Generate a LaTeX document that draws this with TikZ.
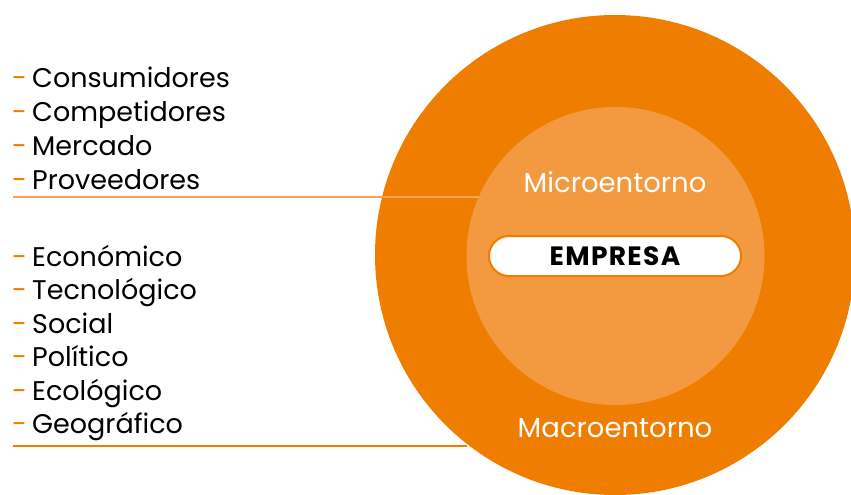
\documentclass[tikz,border=0pt]{standalone}
\usepackage{fontspec}
\setmainfont{Poppins}
\definecolor{outerOr}{RGB}{239,125,0}
\definecolor{innerOr}{RGB}{243,154,64}
\definecolor{lineLight}{RGB}{245,165,85}
\begin{document}
\begin{tikzpicture}[x=1pt,y=-1pt,
  item/.style={anchor=base west,inner sep=0pt,font=\fontsize{27}{30}\selectfont,text=black},
  ring/.style={circle,inner sep=0pt,draw=none},
  lbl/.style={text=white,font=\fontsize{27.5}{30}\selectfont,inner sep=0pt,anchor=base},
  pill/.style={draw=outerOr,line width=2pt,fill=white,rounded corners=20pt,minimum width=252pt,minimum height=40pt,inner sep=0pt,font=\bfseries\fontsize{26.5}{30}\selectfont\addfontfeature{LetterSpace=5}},
]
\useasboundingbox (0,0) rectangle (851,495);
\clip (0,0) rectangle (851,495);
\newcommand{\dsh}{\makebox[20pt][l]{\textcolor{outerOr}{-}}}
\node[ring,fill=outerOr,minimum size=480pt] (outer) at (615,255) {};
\node[ring,fill=innerOr,minimum size=298pt] (inner) at (615.5,256) {};
\node[pill] (emp) at (615,256) {EMPRESA};
\node[lbl] (micro) at (615,192) {Microentorno};
\node[lbl] (macro) at (615,437) {Macroentorno};
\coordinate (l1) at (13,197);
\coordinate (l2) at (13,446);
\draw[lineLight,line width=1.6pt] (l1) -- (l1 -| inner.156.7);
\draw[outerOr,line width=2pt] (l2) -- (l2 -| outer.232.7);
\node[item] (c1) at (12,87.7) {\dsh Consumidores};
\node[item] (c2) at (12,121.5) {\dsh Competidores};
\node[item] (c3) at (12,155.3) {\dsh Mercado};
\node[item] (c4) at (12,189) {\dsh Proveedores};
\node[item] (m1) at (12,266) {\dsh Económico};
\node[item] (m2) at (12,299.5) {\dsh Tecnológico};
\node[item] (m3) at (12,333) {\dsh Social};
\node[item] (m4) at (12,366.5) {\dsh Político};
\node[item] (m5) at (12,400) {\dsh Ecológico};
\node[item] (m6) at (12,433) {\dsh Geográfico};
\end{tikzpicture}
\end{document}
